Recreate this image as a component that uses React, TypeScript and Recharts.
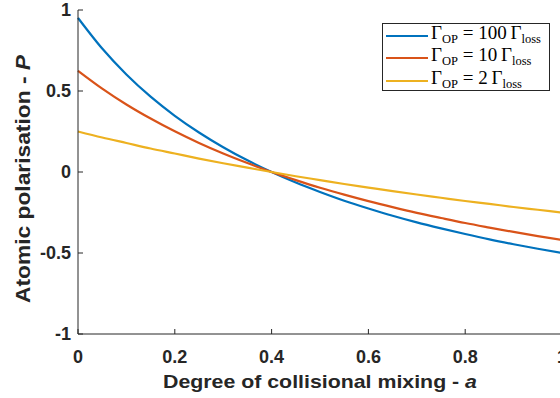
import React from 'react';
import { LineChart, Line, XAxis, YAxis, Label } from 'recharts';

const mixing = [0, 0.05, 0.1, 0.15, 0.2, 0.25, 0.3, 0.35, 0.4, 0.45, 0.5, 0.55, 0.6, 0.65, 0.7, 0.75, 0.8, 0.85, 0.9, 0.95, 1];
const polarisation100 = [0.951, 0.762, 0.602, 0.465, 0.347, 0.244, 0.153, 0.072, 0, -0.065, -0.123, -0.177, -0.225, -0.27, -0.311, -0.348, -0.383, -0.416, -0.446, -0.474, -0.5];
const polarisation10 = [0.625, 0.515, 0.417, 0.33, 0.251, 0.179, 0.114, 0.055, 0, -0.05, -0.097, -0.14, -0.18, -0.217, -0.252, -0.284, -0.315, -0.343, -0.37, -0.396, -0.42];
const polarisation2 = [0.25, 0.213, 0.179, 0.145, 0.114, 0.083, 0.054, 0.027, 0, -0.026, -0.05, -0.074, -0.096, -0.118, -0.139, -0.159, -0.179, -0.197, -0.216, -0.233, -0.25];
const xTicks = [0, 0.2, 0.4, 0.6, 0.8, 1];
const yTicks = [-1, -0.5, 0, 0.5, 1];
const ratioLabels = ['100', '10', '2'];
const seriesKeys = ['s0', 's1', 's2'];
const seriesColors = ['#0072BD', '#D95319', '#EDB120'];

const data = mixing.map((a, i) => ({ a, s0: polarisation100[i], s1: polarisation10[i], s2: polarisation2[i] }));

const AXIS = '#262626';
const SANS = '"Liberation Sans", Arial, Helvetica, sans-serif';
const SERIF = '"Liberation Serif", "Times New Roman", serif';
const tickStyle = { fill: AXIS, fontSize: 18, fontWeight: 'bold', fontFamily: SANS };
const fmt = (v: number) => String(v);

const YTitle = () => (
  <text
    x={30}
    y={179}
    transform="rotate(-90 30 179)"
    textAnchor="middle"
    fontSize={21}
    fontWeight="bold"
    fill={AXIS}
    fontFamily={SANS}
    textLength={248}
    lengthAdjust="spacingAndGlyphs"
  >
    Atomic polarisation - <tspan fontStyle="italic">P</tspan>
  </text>
);

const XTitle = () => (
  <text
    x={320}
    y={388}
    textAnchor="middle"
    fontSize={19}
    fontWeight="bold"
    fill={AXIS}
    fontFamily={SANS}
    textLength={314}
    lengthAdjust="spacingAndGlyphs"
  >
    Degree of collisional mixing - <tspan fontStyle="italic">a</tspan>
  </text>
);

const sub: React.CSSProperties = { fontSize: 12.5, position: 'relative', top: 4 };

const LegendBox = () => (
  <div
    style={{
      position: 'absolute',
      left: 382,
      top: 23,
      width: 166,
      height: 65,
      border: `1px solid ${AXIS}`,
      background: '#fff',
      fontFamily: SERIF,
      fontSize: 19,
      color: '#000',
      paddingTop: 1,
    }}
  >
    {ratioLabels.map((r, i) => (
      <div key={r} style={{ height: 22.3, display: 'flex', alignItems: 'center', whiteSpace: 'nowrap' }}>
        <span style={{ display: 'inline-block', width: 42, height: 2, marginLeft: 3, background: seriesColors[i] }} />
        <span style={{ marginLeft: 3, lineHeight: '18px', position: 'relative', top: -2 }}>
          Γ<span style={sub}>OP</span> = {r}&thinsp;Γ<span style={sub}>loss</span>
        </span>
      </div>
    ))}
  </div>
);

export default function App() {
  return (
    <div style={{ position: 'absolute', left: 0, top: 0, width: 560, height: 398, background: '#fff' }}>
      <LineChart width={560} height={398} data={data} margin={{ top: 10, right: -2, bottom: 0, left: 0 }}>
        <XAxis
          dataKey="a"
          type="number"
          domain={[0, 1]}
          ticks={xTicks}
          tickFormatter={fmt}
          height={64}
          tickSize={-5}
          tickMargin={21}
          stroke={AXIS}
          tick={tickStyle}
          interval={0}
        >
          <Label content={XTitle} />
        </XAxis>
        <XAxis
          xAxisId="top"
          orientation="top"
          type="number"
          domain={[0, 1]}
          ticks={xTicks}
          height={0}
          tickSize={-5}
          tick={false}
          stroke={AXIS}
          interval={0}
        />
        <YAxis
          type="number"
          domain={[-1, 1]}
          ticks={yTicks}
          tickFormatter={fmt}
          width={78}
          tickSize={-5}
          tickMargin={12}
          stroke={AXIS}
          tick={tickStyle}
          interval={0}
        >
          <Label content={YTitle} />
        </YAxis>
        <YAxis
          yAxisId="right"
          orientation="right"
          type="number"
          domain={[-1, 1]}
          ticks={yTicks}
          width={0}
          tickSize={-5}
          tick={false}
          stroke={AXIS}
          interval={0}
        />
        {seriesKeys.map((k, i) => (
          <Line
            key={k}
            dataKey={k}
            type="monotone"
            stroke={seriesColors[i]}
            strokeWidth={2.2}
            dot={false}
            isAnimationActive={false}
          />
        ))}
      </LineChart>
      <LegendBox />
    </div>
  );
}
